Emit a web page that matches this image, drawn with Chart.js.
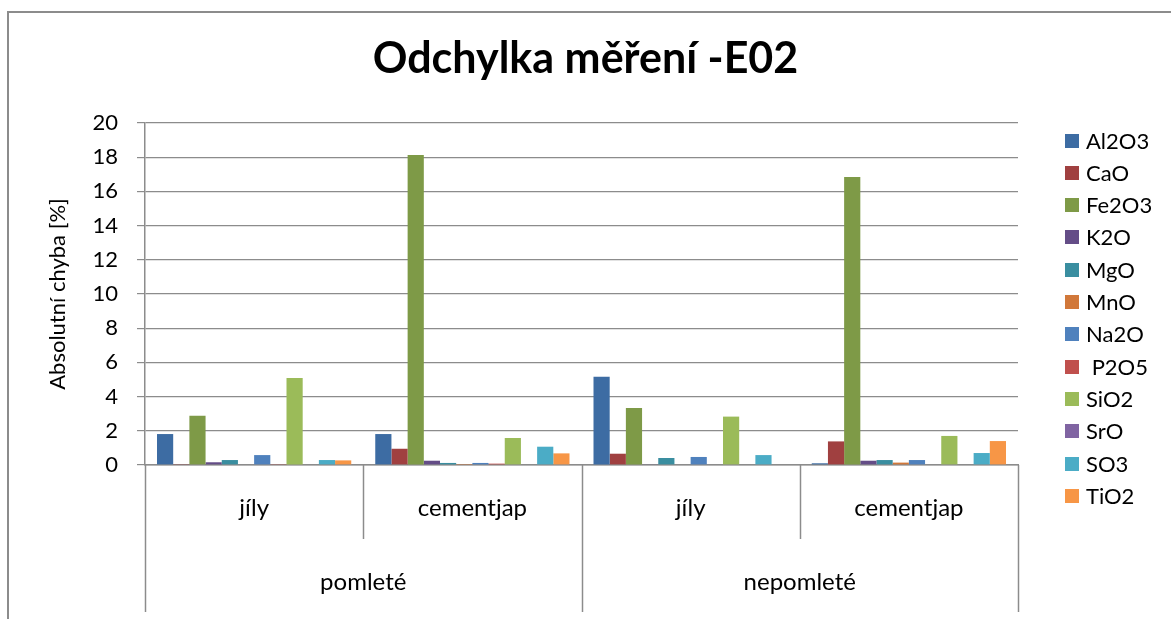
<!DOCTYPE html>
<html>
<head>
<meta charset="utf-8">
<script src="https://cdn.jsdelivr.net/npm/chart.js@4.4.1/dist/chart.umd.min.js"></script>
<style>
html,body{margin:0;padding:0;background:#fff;}
#wrap{width:1171px;height:619px;position:relative;}
</style>
</head>
<body>
<div id="wrap"><canvas id="c" width="1171" height="619"></canvas></div>
<script>
const categories = ['jíly', 'cementjap', 'jíly', 'cementjap'];
const groups = ['pomleté', 'nepomleté'];
const groupSpan = 2;
const yTicks = [0, 2, 4, 6, 8, 10, 12, 14, 16, 18, 20];

const seriesNames = ['Al2O3', 'CaO', 'Fe2O3', 'K2O', 'MgO', 'MnO', 'Na2O', ' P2O5', 'SiO2', 'SrO', 'SO3', 'TiO2'];
const Al2O3 = [1.81, 1.81, 5.16, 0.10];
const CaO   = [0.02, 0.95, 0.66, 1.38];
const Fe2O3 = [2.88, 18.13, 3.33, 16.84];
const K2O   = [0.16, 0.25, 0.03, 0.25];
const MgO   = [0.29, 0.12, 0.41, 0.29];
const MnO   = [0, 0.06, 0, 0.14];
const Na2O  = [0.58, 0.12, 0.47, 0.29];
const P2O5  = [0.02, 0.08, 0, 0];
const SiO2  = [5.09, 1.58, 2.83, 1.70];
const SrO   = [0, 0, 0, 0];
const SO3   = [0.29, 1.07, 0.58, 0.70];
const TiO2  = [0.27, 0.68, 0, 1.40];
const seriesValues = [Al2O3, CaO, Fe2O3, K2O, MgO, MnO, Na2O, P2O5, SiO2, SrO, SO3, TiO2];
const seriesColors = ['#3D6CA3', '#A04040', '#7E9A47', '#644D87', '#3A8EA0', '#D1783A',
                      '#4F81BD', '#C0504D', '#9BBB59', '#8064A2', '#4BACC6', '#F79646'];

const FONT = 'Lato, "Open Sans", sans-serif';
const AXIS_GRAY = '#8c8c8c';

const framePlugin = {
  id: 'frame',
  beforeDraw(chart) {
    const ctx = chart.ctx;
    ctx.save();
    ctx.strokeStyle = '#8c8c8c';
    ctx.lineWidth = 2;
    ctx.beginPath();
    ctx.moveTo(8, 619);
    ctx.lineTo(8, 12);
    ctx.lineTo(1171, 12);
    ctx.stroke();
    ctx.restore();
  }
};

const multiAxisPlugin = {
  id: 'multiAxis',
  afterDraw(chart) {
    const ctx = chart.ctx;
    const xs = chart.scales.x;
    const n = categories.length;
    const w = (xs.right - xs.left) / n;
    const top = chart.chartArea.bottom;
    ctx.save();
    ctx.strokeStyle = AXIS_GRAY;
    ctx.lineWidth = 1.5;
    for (let i = 0; i <= n; i++) {
      const x = Math.round(xs.left + i * w) + 0.5;
      const isGroup = (i % groupSpan === 0);
      ctx.beginPath();
      ctx.moveTo(x, top);
      ctx.lineTo(x, isGroup ? 612 : 539);
      ctx.stroke();
    }
    ctx.fillStyle = '#000';
    ctx.font = '24px ' + FONT;
    ctx.textAlign = 'center';
    ctx.textBaseline = 'middle';
    categories.forEach((c, i) => {
      ctx.fillText(c, xs.getPixelForValue(i), 508);
    });
    groups.forEach((g, j) => {
      const x = xs.left + (j * groupSpan + groupSpan / 2) * w;
      ctx.fillText(g, x, 582);
    });
    ctx.restore();
  }
};

const legendPlugin = {
  id: 'customLegend',
  afterDraw(chart) {
    const ctx = chart.ctx;
    ctx.save();
    ctx.font = '22px ' + FONT;
    ctx.textBaseline = 'middle';
    ctx.textAlign = 'left';
    chart.data.datasets.forEach((ds, i) => {
      const y = 140.5 + i * 32.3;
      ctx.fillStyle = ds.backgroundColor;
      ctx.fillRect(1065, Math.round(y - 7), 14, 14);
      ctx.fillStyle = '#000';
      ctx.fillText(ds.label, 1086, y + 1);
    });
    ctx.restore();
  }
};

const datasets = seriesNames.map((name, i) => ({
  label: name,
  data: seriesValues[i],
  backgroundColor: seriesColors[i],
  borderWidth: 0,
  categoryPercentage: 0.89,
  barPercentage: 1.0
}));

new Chart(document.getElementById('c'), {
  type: 'bar',
  data: { labels: categories, datasets: datasets },
  options: {
    responsive: false,
    animation: false,
    devicePixelRatio: 1,
    layout: { padding: 0 },
    plugins: {
      legend: { display: false },
      tooltip: { enabled: false },
      title: {
        display: true,
        text: 'Odchylka měření -E02',
        color: '#000',
        font: { family: FONT, size: 43, weight: 'bold', lineHeight: 1.2 },
        padding: { top: 33, bottom: 38.4 }
      }
    },
    scales: {
      x: {
        display: true,
        ticks: { display: false },
        grid: { display: false, drawTicks: false },
        border: { display: true, color: AXIS_GRAY, width: 1.5 },
        afterFit(scale) { scale.height = 154; }
      },
      y: {
        min: 0,
        max: 20,
        afterBuildTicks(scale) { scale.ticks = yTicks.map(v => ({ value: v })); },
        ticks: {
          color: '#000',
          font: { family: FONT, size: 22 },
          padding: 19
        },
        grid: { color: AXIS_GRAY, lineWidth: 1.2, tickLength: 8, drawTicks: true },
        border: { display: true, color: AXIS_GRAY, width: 1.5 },
        title: {
          display: true,
          text: 'Absolutní chyba [%]',
          color: '#000',
          font: { family: FONT, size: 22, lineHeight: 1.2 },
          padding: { top: 45, bottom: 0 }
        },
        afterFit(scale) { scale.width = 145; }
      },
      legendSpace: {
        type: 'linear',
        position: 'right',
        display: true,
        ticks: { display: false },
        grid: { display: false, drawTicks: false },
        border: { display: false },
        afterFit(scale) { scale.width = 153; }
      }
    }
  },
  plugins: [framePlugin, multiAxisPlugin, legendPlugin]
});
</script>
</body>
</html>
